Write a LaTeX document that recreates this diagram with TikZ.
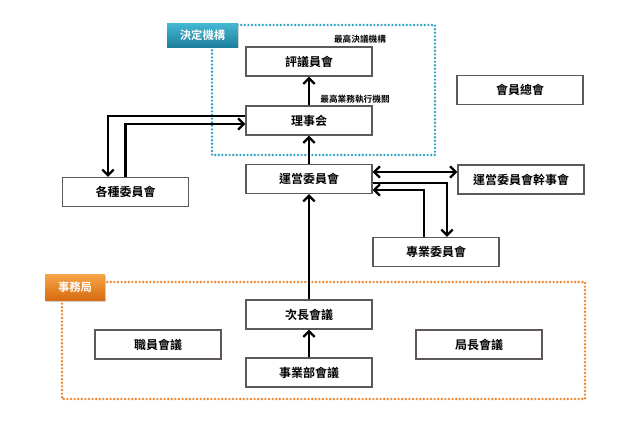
\documentclass[tikz,border=0pt]{standalone}
\usepackage{fontspec}
\setmainfont{Noto Sans CJK TC}[BoldFont={Noto Sans CJK TC Bold}]
\usetikzlibrary{arrows.meta,calc,shadows}
\definecolor{boxline}{HTML}{5E5856}
\definecolor{tealdot}{HTML}{2FA3C6}
\definecolor{orgdot}{HTML}{F0842A}
\definecolor{tealtop}{HTML}{45B8D4}
\definecolor{tealbot}{HTML}{1C7F9C}
\definecolor{orgtop}{HTML}{F6A647}
\definecolor{orgbot}{HTML}{D66A0E}
\tikzset{
  orgbox/.style={draw=boxline, line width=1pt, fill=white, minimum width=94.5pt, minimum height=21.75pt, inner sep=0pt, font=\bfseries\fontsize{9}{10}\selectfont},
  arr/.style={line width=1.9pt, -{Straight Barb[length=4.2pt,width=8.5pt,line width=1.7pt]}},
  darr/.style={line width=1.9pt, {Straight Barb[length=4.2pt,width=8.5pt,line width=1.7pt]}-{Straight Barb[length=4.2pt,width=8.5pt,line width=1.7pt]}},
  dotline/.style={line width=2pt, line cap=round, dash pattern=on 0pt off 2.7pt},
  tag/.style={inner sep=0pt, text=white, font=\bfseries\fontsize{8.5}{9}\selectfont, drop shadow={shadow xshift=0.8pt, shadow yshift=-1pt, opacity=0.35}},
  note/.style={inner sep=0pt, font=\bfseries\fontsize{6.5}{7}\selectfont}
}
\begin{document}
\begin{tikzpicture}[x=0.75pt,y=-0.75pt]
\useasboundingbox (0,0) rectangle (631,425);
% frames
\draw[dotline, tealdot] (212,25) rectangle (435,155);
\draw[dotline, orgdot] (62,282) rectangle (585,399);
\node[tag, top color=tealtop, bottom color=tealbot, minimum width=53pt, minimum height=18pt] (ketteilbl) at (202.5,35) {決定機構};
\node[tag, top color=orgtop, bottom color=orgbot, minimum width=45pt, minimum height=20pt] (jimulbl) at (75,287.5) {事務局};
% boxes
\node[orgbox] (hyogi) at (309,61.5) {評議員會};
\node[orgbox] (riji) at (309,120.5) {理事会};
\node[orgbox] (unei) at (309,179) {運営委員會};
\node[orgbox] (kanji) at (521,179.5) {運営委員會幹事會};
\node[orgbox] (jigyo) at (436,252) {專業委員會};
\node[orgbox] (kakushu) at (125.5,192) {各種委員會};
\node[orgbox] (soukai) at (520,90) {會員總會};
\node[orgbox] (jicho) at (309,314.5) {次長會議};
\node[orgbox] (jigyobu) at (309,372.5) {事業部會議};
\node[orgbox] (shokuin) at (158,344.5) {職員會議};
\node[orgbox] (kyokucho) at (479,344.5) {局長會議};
% notes
\node[note] (n1) at (360,39) {最高決議機構};
\node[note] (n2) at (355,99) {最高業務執行機關};
% connectors
\draw[arr] (riji.north) -- (hyogi.south);
\draw[arr] (unei.north) -- (riji.south);
\draw[arr] (jicho.north) -- (unei.south);
\draw[arr] (jigyobu.north) -- (jicho.south);
\draw[arr] ($(riji.west)+(0,-4.5)$) -| ($(kakushu.north)+(-17.5,0)$);
\draw[arr] (kakushu.north) |- ($(riji.west)+(0,3.5)$);
\draw[darr] ($(unei.east)+(0,-7)$) -- ($(kanji.west)+(0,-7.5)$);
\draw[arr] ($(unei.east)+(0,4)$) -| ($(jigyo.north)+(11,0)$);
\draw[arr] ($(jigyo.north)+(-12,0)$) |- ($(unei.east)+(0,11)$);
\end{tikzpicture}
\end{document}
